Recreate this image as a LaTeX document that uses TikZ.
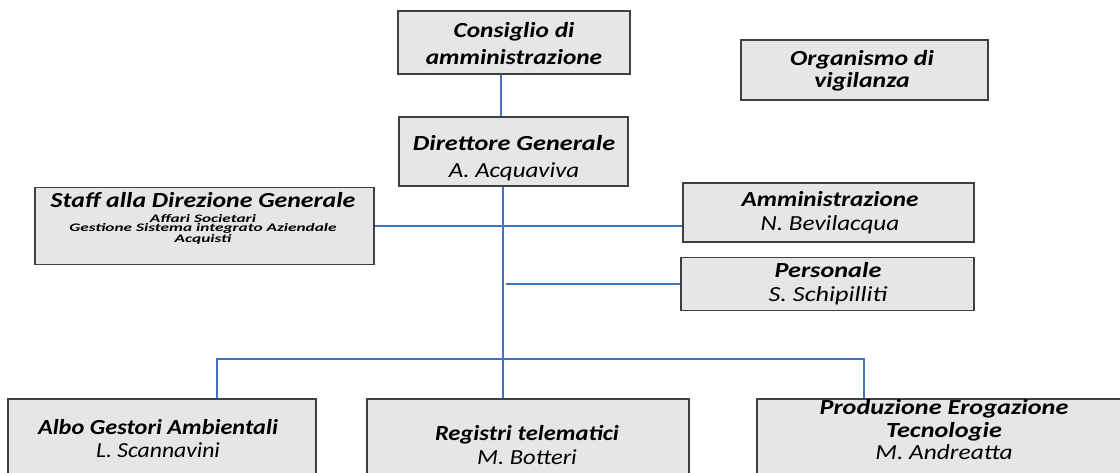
\documentclass[tikz,border=0pt]{standalone}
\usepackage{fontspec}
\setmainfont{Carlito}
\definecolor{boxfill}{HTML}{E7E6E6}
\definecolor{boxline}{HTML}{404040}
\definecolor{connblue}{HTML}{4472C4}
\newcommand{\wideT}[2][1.22]{\scalebox{#1}[1]{#2}}
\newcommand{\wideS}[1]{\scalebox{1.5}[1]{#1}}
\begin{document}
\begin{tikzpicture}[x=1pt,y=-1pt,
  box/.style={draw=boxline, fill=boxfill, line width=1.5pt, rectangle, inner sep=0pt},
  conn/.style={draw=connblue, line width=1.5pt},
  spine/.style={draw=connblue, line width=2.2pt},
  txt/.style={align=center, inner sep=0pt, font=\fontsize{21.5}{24}\selectfont\itshape},
  txtw/.style={txt, font=\fontsize{21.5}{27}\selectfont\itshape},
  sub/.style={align=center, inner sep=0pt, font=\fontsize{11.5}{9.5}\selectfont\bfseries\itshape}
]
\useasboundingbox (0,0) rectangle (1120,473);
\clip (0,0) rectangle (1120,473);
\fill[white] (0,0) rectangle (1120,473);

% boxes
\node[box, minimum width=232pt, minimum height=63pt] (cda) at (514,42.5) {};
\node[box, minimum width=247pt, minimum height=60pt] (odv) at (864.5,70) {};
\node[box, minimum width=229pt, minimum height=69pt] (dg) at (513.5,151.5) {};
\node[box, minimum width=339pt, minimum height=77pt] (staff) at (204.5,226) {};
\node[box, minimum width=291pt, minimum height=59pt] (amm) at (828.5,212.5) {};
\node[box, minimum width=293pt, minimum height=53pt] (pers) at (827.5,284) {};
\node[box, minimum width=308pt, minimum height=81pt] (albo) at (162,439.5) {};
\node[box, minimum width=322pt, minimum height=96pt] (reg) at (528,447) {};
\node[box, minimum width=374pt, minimum height=90pt] (prod) at (944,444) {};

% texts
\node[txtw, font=\fontsize{21.5}{27}\selectfont\bfseries\itshape] (cdat) at (514,43.5) {\wideT[1.18]{Consiglio di}\\\wideT[1.18]{amministrazione}};
\node[txt, font=\fontsize{21.5}{22}\selectfont\bfseries\itshape] (odvt) at (862,71) {\wideT[1.2]{Organismo di}\\\wideT[1.2]{vigilanza}};
\node[txtw] (dgt) at (514,158) {\wideT{\bfseries Direttore Generale}\\\wideT[1.16]{A. Acquaviva}};
\node[txt, font=\fontsize{21.5}{24}\selectfont\bfseries\itshape] (stafft) at (203,200.5) {\wideT[1.2]{Staff alla Direzione Generale}};
\node[sub] (staffs) at (203,229.5) {\wideS{Affari Societari}\\\wideS{Gestione Sistema integrato Aziendale}\\\wideS{Acquisti}};
\node[txt] (ammt) at (830,213) {\wideT[1.17]{\bfseries Amministrazione}\\\wideT[1.17]{N. Bevilacqua}};
\node[txt] (perst) at (828,284) {\wideT{\bfseries Personale}\\\wideT{S. Schipilliti}};
\node[txt, font=\fontsize{21.5}{23}\selectfont\itshape] (albot) at (158,438.5) {\wideT[1.13]{\bfseries Albo Gestori Ambientali}\\\wideT[1.1]{L. Scannavini}};
\node[txt] (regt) at (527,445) {\wideT[1.14]{\bfseries Registri telematici}\\\wideT[1.14]{M. Botteri}};
\node[txt, font=\fontsize{21.5}{22.5}\selectfont\itshape] (prodt) at (944,430) {\wideT{\bfseries Produzione Erogazione}\\\wideT{\bfseries Tecnologie}\\\wideT[1.18]{M. Andreatta}};

% connector coordinates
\coordinate (v1) at (501,0);
\coordinate (j) at (503,359);
\coordinate (sp) at (506,0);
\coordinate (bl) at (217,359);
\coordinate (br) at (864,359);

% connectors
\draw[conn] (cda.south -| v1) -- (dg.north -| v1);
\draw[spine] (dg.south -| j) -- (j);
\draw[conn] (staff.east) -- (staff.east -| amm.west);
\draw[conn] (pers.west -| sp) -- (pers.west);
\draw[conn] (albo.north -| bl) -- (bl) -- (br) -- (prod.north -| br);
\draw[conn] (j) -- (reg.north -| j);
\end{tikzpicture}
\end{document}
